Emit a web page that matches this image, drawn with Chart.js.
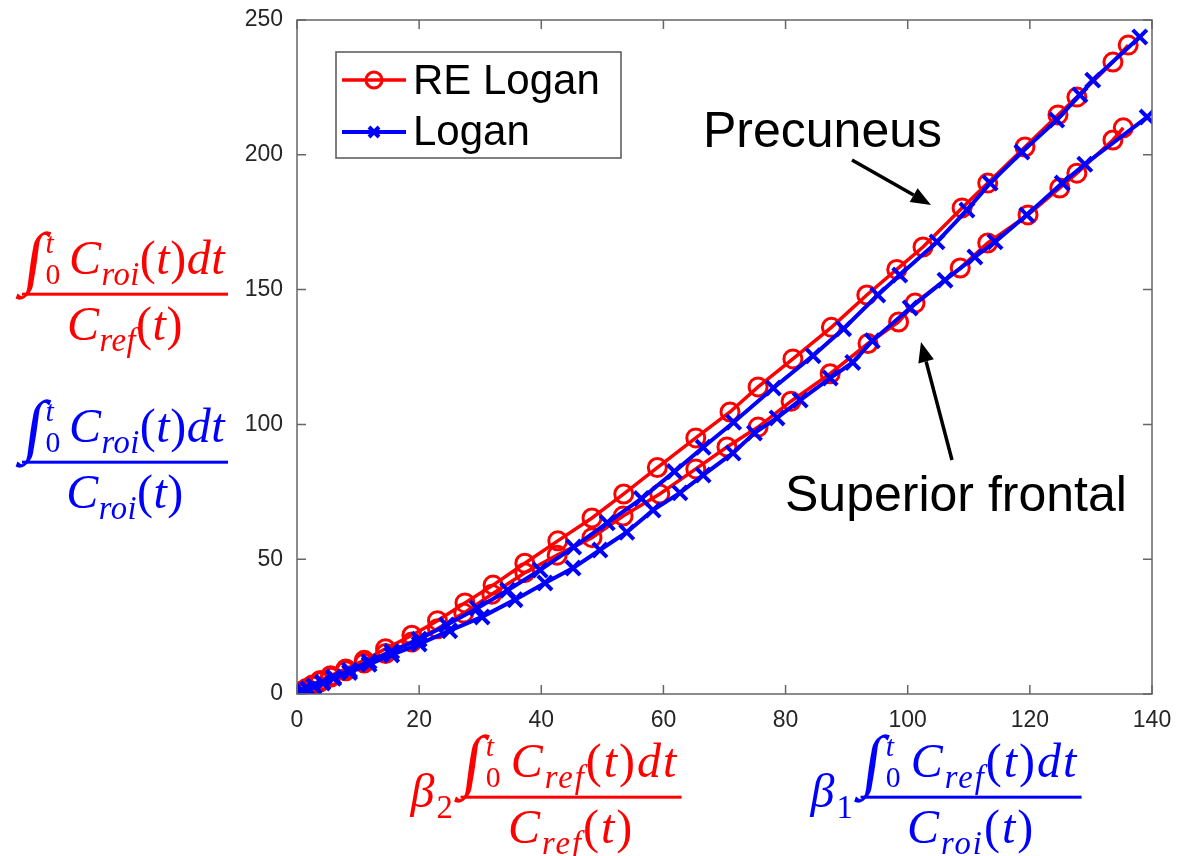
<!DOCTYPE html>
<html>
<head>
<meta charset="utf-8">
<script src="https://cdn.jsdelivr.net/npm/chart.js@4.4.1/dist/chart.umd.min.js"></script>
<style>
  body { margin: 0; background: #fff; }
  #wrap { position: relative; width: 1183px; height: 856px; }
  .math {
    position: absolute;
    font-family: "Liberation Serif", "DejaVu Serif", serif;
    font-style: italic;
    font-size: 48px;
    letter-spacing: 0.5px;
    display: flex;
    align-items: center;
    white-space: nowrap;
    transform: translate(-50%, -50%);
  }
  .frac { display: inline-flex; flex-direction: column; align-items: center; }
  .frac .num { border-bottom: 3px solid currentColor; padding: 0 3px 3px; line-height: 1.0; display: flex; align-items: center; }
  .frac .den { padding-top: 4px; line-height: 1.0; }
  .wide { letter-spacing: 2px; }
  .up { font-style: normal; }
  sub { font-size: 0.68em; vertical-align: -0.35em; line-height: 0; }
  .int { font-style: normal; font-size: 1.45em; line-height: 0.9; transform: skewX(-8deg); }
  .lim { display: inline-flex; flex-direction: column; font-size: 0.62em; line-height: 1.05; margin: 0 8px 0 1px; }
  .beta { margin-right: 6px; }
</style>
</head>
<body>
<div id="wrap">
  <canvas id="logan"></canvas>

  <div class="math" style="left:125px; top:287px; color:#ff0000;">
    <div class="frac">
      <div class="num"><span class="int">∫</span><span class="lim"><span>t</span><span class="up">0</span></span><span>C<sub>roi</sub><span class="up">(</span>t<span class="up">)</span>dt</span></div>
      <div class="den">C<sub>ref</sub><span class="up">(</span>t<span class="up">)</span></div>
    </div>
  </div>
  <div class="math" style="left:125px; top:455px; color:#0000ff;">
    <div class="frac">
      <div class="num"><span class="int">∫</span><span class="lim"><span>t</span><span class="up">0</span></span><span>C<sub>roi</sub><span class="up">(</span>t<span class="up">)</span>dt</span></div>
      <div class="den">C<sub>roi</sub><span class="up">(</span>t<span class="up">)</span></div>
    </div>
  </div>
  <div class="math wide" style="left:546px; top:790px; color:#ff0000;">
    <span class="beta">β<sub class="up">2</sub></span>
    <div class="frac">
      <div class="num"><span class="int">∫</span><span class="lim"><span>t</span><span class="up">0</span></span><span>C<sub>ref</sub><span class="up">(</span>t<span class="up">)</span>dt</span></div>
      <div class="den">C<sub>ref</sub><span class="up">(</span>t<span class="up">)</span></div>
    </div>
  </div>
  <div class="math wide" style="left:946px; top:790px; color:#0000ff;">
    <span class="beta">β<sub class="up">1</sub></span>
    <div class="frac">
      <div class="num"><span class="int">∫</span><span class="lim"><span>t</span><span class="up">0</span></span><span>C<sub>ref</sub><span class="up">(</span>t<span class="up">)</span>dt</span></div>
      <div class="den">C<sub>roi</sub><span class="up">(</span>t<span class="up">)</span></div>
    </div>
  </div>
</div>

<script>
// RE Logan, precuneus (red circles)
const reX1 = [0.3, 0.8, 1.5, 2.5, 3.8, 5.5, 8.0, 11.0, 14.5, 18.8, 23.0, 27.5, 32.1, 37.3, 42.7, 48.3, 53.5, 59.0, 65.3, 70.9, 75.5, 81.2, 87.5, 93.3, 98.2, 102.5, 108.9, 113.1, 119.2, 124.6, 127.7, 133.6, 136.1];
const reY1 = [0.3, 1.0, 2.0, 3.3, 5.0, 6.8, 9.3, 12.5, 16.8, 21.8, 27.2, 33.8, 40.4, 48.5, 56.8, 65.3, 74.2, 84.0, 95.0, 104.6, 113.9, 124.3, 136.0, 148.0, 157.5, 165.8, 180.3, 189.5, 202.9, 214.8, 221.4, 234.4, 240.7];

// RE Logan, superior frontal (red circles)
const reX2 = [0.3, 0.8, 1.5, 2.5, 3.8, 5.5, 8.0, 11.0, 14.5, 18.8, 23.0, 27.3, 31.9, 37.3, 42.6, 48.3, 53.4, 59.4, 65.3, 70.4, 75.5, 80.9, 87.3, 93.5, 98.5, 101.2, 108.6, 113.1, 119.7, 124.9, 127.7, 133.6, 135.3];
const reY2 = [0.3, 0.9, 1.8, 3.0, 4.5, 6.2, 8.6, 11.5, 15.0, 19.3, 24.2, 30.0, 37.0, 45.0, 51.5, 58.0, 66.0, 74.2, 83.5, 91.6, 99.0, 108.6, 118.8, 130.0, 138.0, 145.0, 158.0, 167.3, 177.7, 187.7, 193.2, 205.5, 210.0];

// Logan, precuneus (blue crosses)
const lgX1 = [0.4, 1.0, 1.8, 2.8, 4.2, 6.0, 8.6, 11.8, 15.5, 20.0, 24.5, 29.5, 34.5, 39.8, 45.3, 50.8, 56.4, 61.8, 66.5, 71.5, 78.0, 84.5, 89.5, 95.1, 98.7, 104.8, 109.7, 113.5, 118.7, 124.4, 128.2, 130.3, 138.0];
const lgY1 = [0.4, 1.0, 1.9, 3.0, 4.4, 6.3, 8.8, 12.0, 15.8, 20.3, 25.6, 31.8, 38.5, 46.0, 54.5, 63.5, 72.5, 82.5, 91.5, 100.8, 113.5, 125.5, 135.5, 148.0, 155.4, 167.7, 179.5, 189.5, 201.0, 212.9, 222.2, 227.7, 243.7];

// Logan, superior frontal (blue crosses)
const lgX2 = [0.4, 1.0, 1.8, 2.8, 4.2, 6.0, 8.6, 11.8, 15.5, 20.0, 25.0, 30.3, 35.7, 40.6, 45.2, 49.6, 54.0, 58.3, 62.7, 66.5, 71.4, 74.9, 78.6, 82.4, 87.3, 91.0, 94.2, 100.4, 106.1, 111.0, 114.3, 119.5, 125.3, 129.0, 139.2];
const lgY2 = [0.4, 1.0, 1.8, 2.8, 4.1, 5.8, 8.0, 11.0, 14.5, 18.5, 23.5, 28.6, 35.0, 41.2, 46.7, 53.4, 60.0, 68.2, 74.6, 81.2, 89.4, 96.8, 102.4, 109.0, 117.2, 123.0, 131.0, 143.2, 153.5, 162.1, 167.7, 177.7, 189.5, 196.5, 214.0];

const xTicks = [0, 20, 40, 60, 80, 100, 120, 140];
const yTicks = [0, 50, 100, 150, 200, 250];

const RED = "#ff0000";
const BLUE = "#0000ff";
const AXIS = "#666666";
const LABEL = "#262626";
const SANS = "'Liberation Sans', Arial, Helvetica, sans-serif";

const toPoints = (xs, ys) => xs.map((x, i) => ({ x, y: ys[i] }));

const redSet = (data) => ({
  data,
  borderColor: RED,
  borderWidth: 3.5,
  pointStyle: "circle",
  pointRadius: 9,
  pointBorderWidth: 3,
  pointBackgroundColor: "rgba(0,0,0,0)",
  pointBorderColor: RED,
  tension: 0,
  order: 2,
});
const blueSet = (data) => ({
  data,
  borderColor: BLUE,
  borderWidth: 4,
  pointStyle: "crossRot",
  pointRadius: 10,
  pointBorderWidth: 4,
  pointBorderColor: BLUE,
  tension: 0,
  order: 1,
});

// box, inward ticks, legend and arrows, MATLAB style
const matlabAxes = {
  id: "matlabAxes",
  afterDraw(chart) {
    const { ctx, chartArea: a, scales } = chart;
    ctx.save();
    ctx.strokeStyle = AXIS;
    ctx.lineWidth = 1.5;
    ctx.strokeRect(a.left, a.top, a.right - a.left, a.bottom - a.top);
    const tl = 9;
    ctx.beginPath();
    xTicks.forEach((v) => {
      const px = scales.x.getPixelForValue(v);
      ctx.moveTo(px, a.bottom); ctx.lineTo(px, a.bottom - tl);
      ctx.moveTo(px, a.top); ctx.lineTo(px, a.top + tl);
    });
    yTicks.forEach((v) => {
      const py = scales.y.getPixelForValue(v);
      ctx.moveTo(a.left, py); ctx.lineTo(a.left + tl, py);
      ctx.moveTo(a.right, py); ctx.lineTo(a.right - tl, py);
    });
    ctx.stroke();

    // legend
    const lx = 336, ly = 52, lw = 285, lh = 106;
    ctx.fillStyle = "#fff";
    ctx.fillRect(lx, ly, lw, lh);
    ctx.strokeStyle = "#555";
    ctx.lineWidth = 1.5;
    ctx.strokeRect(lx, ly, lw, lh);

    ctx.lineWidth = 3.5;
    ctx.strokeStyle = RED;
    ctx.beginPath(); ctx.moveTo(342, 80); ctx.lineTo(406, 80); ctx.stroke();
    ctx.lineWidth = 3;
    ctx.beginPath(); ctx.arc(374, 80, 8, 0, Math.PI * 2); ctx.stroke();

    ctx.lineWidth = 4;
    ctx.strokeStyle = BLUE;
    ctx.beginPath(); ctx.moveTo(342, 132); ctx.lineTo(406, 132); ctx.stroke();
    ctx.beginPath();
    ctx.moveTo(369, 127); ctx.lineTo(379, 137);
    ctx.moveTo(379, 127); ctx.lineTo(369, 137);
    ctx.stroke();

    ctx.fillStyle = "#000";
    ctx.font = "42px " + SANS;
    ctx.textBaseline = "alphabetic";
    ctx.textAlign = "left";
    ctx.fillText("RE Logan", 413, 94);
    ctx.fillText("Logan", 413, 145);

    // annotations
    ctx.font = "50px " + SANS;
    ctx.fillText("Precuneus", 703, 147);
    ctx.fillText("Superior frontal", 785, 511);

    const arrow = (x0, y0, x1, y1) => {
      const ang = Math.atan2(y1 - y0, x1 - x0);
      const hl = 20, hw = 8;
      const bx = x1 - hl * Math.cos(ang), by = y1 - hl * Math.sin(ang);
      ctx.strokeStyle = "#000";
      ctx.lineWidth = 3.5;
      ctx.beginPath(); ctx.moveTo(x0, y0); ctx.lineTo(bx, by); ctx.stroke();
      ctx.fillStyle = "#000";
      ctx.beginPath();
      ctx.moveTo(x1, y1);
      ctx.lineTo(bx + hw * Math.sin(ang), by - hw * Math.cos(ang));
      ctx.lineTo(bx - hw * Math.sin(ang), by + hw * Math.cos(ang));
      ctx.closePath();
      ctx.fill();
    };
    arrow(852, 160, 931, 205);
    arrow(952, 460, 921, 342);
    ctx.restore();
  },
};

new Chart(document.getElementById("logan"), {
  type: "line",
  data: {
    datasets: [
      redSet(toPoints(reX1, reY1)),
      redSet(toPoints(reX2, reY2)),
      blueSet(toPoints(lgX1, lgY1)),
      blueSet(toPoints(lgX2, lgY2)),
    ],
  },
  options: {
    responsive: true,
    maintainAspectRatio: false,
    animation: false,
    layout: { padding: { top: 20, right: 31, left: 0, bottom: 0 } },
    plugins: { legend: { display: false }, tooltip: { enabled: false } },
    scales: {
      x: {
        type: "linear",
        min: 0,
        max: 140,
        afterBuildTicks: (s) => { s.ticks = xTicks.map((v) => ({ value: v })); },
        afterFit: (s) => { s.height = 162; s.paddingLeft = 0; s.paddingRight = 0; },
        ticks: { padding: 13, color: LABEL, font: { family: SANS, size: 23 } },
        grid: { display: false, drawTicks: false },
        border: { display: false },
      },
      y: {
        min: 0,
        max: 250,
        afterBuildTicks: (s) => { s.ticks = yTicks.map((v) => ({ value: v })); },
        afterFit: (s) => { s.width = 297; s.paddingTop = 0; s.paddingBottom = 0; },
        ticks: { padding: 14, color: LABEL, font: { family: SANS, size: 23 } },
        grid: { display: false, drawTicks: false },
        border: { display: false },
      },
    },
  },
  plugins: [matlabAxes],
});
</script>
</body>
</html>
